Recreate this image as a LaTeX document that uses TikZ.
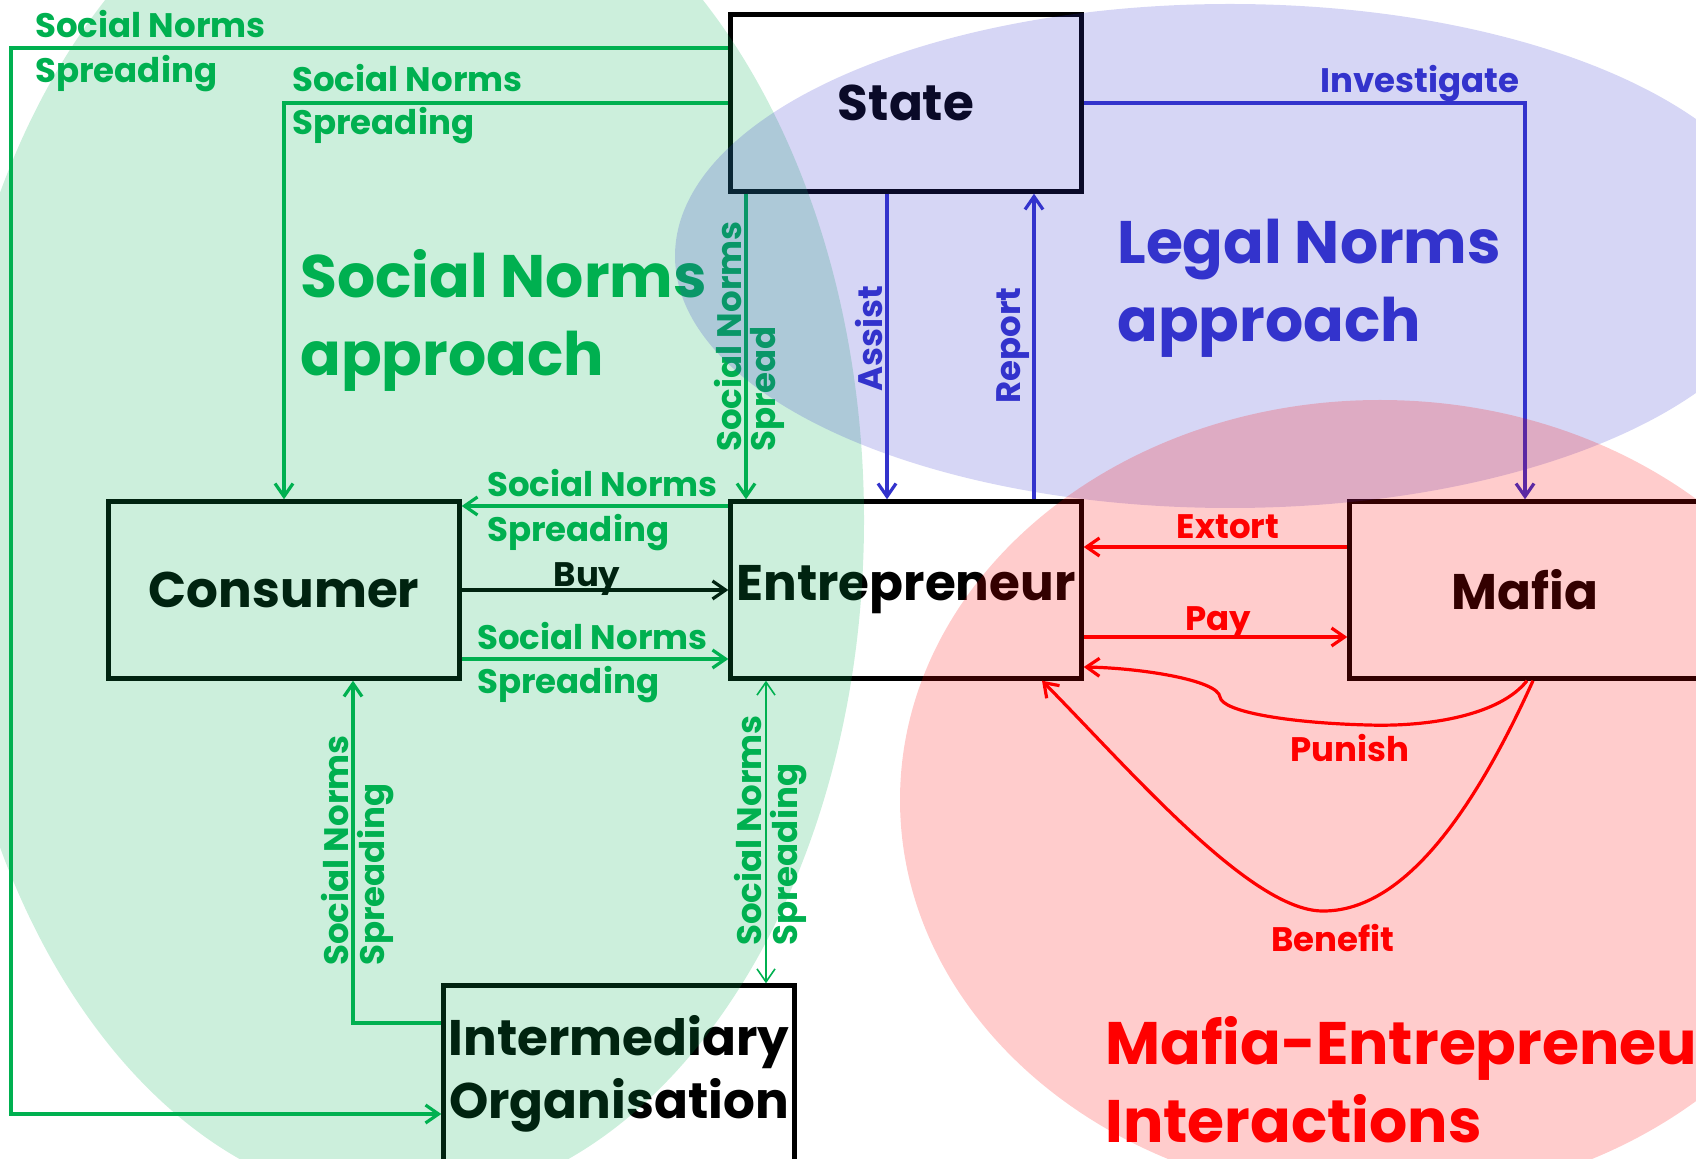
\documentclass[tikz,border=0pt]{standalone}
\usepackage{fontspec}
\setmainfont{Poppins}
\usetikzlibrary{arrows.meta}

\definecolor{snGreen}{RGB}{0,176,80}
\definecolor{lnBlue}{RGB}{51,51,204}
\definecolor{meRed}{RGB}{255,0,0}

\tikzset{
    box/.style={rectangle, draw, line width=2.2pt, minimum width=175.5pt, minimum height=88.5pt,
        inner sep=0pt, align=center, font=\fontsize{25}{31.5}\selectfont\bfseries},
    lbl/.style={inner sep=1pt, font=\fontsize{17}{20}\selectfont\bfseries},
    biglbl/.style={inner sep=0pt, align=left, anchor=north west, font=\fontsize{30}{39}\selectfont\bfseries},
    link/.style={line width=1.6pt},
}

\begin{document}
\begin{tikzpicture}[x=0.5pt, y=-0.5pt, >={Straight Barb[length=6.5pt,width=9pt]}]

    \useasboundingbox (0,0) rectangle (1696,1159);
    \clip (0,0) rectangle (1696,1159);

    \node (state) [box] at (906,103) {State};
    \node (consumer) [box] at (284,590) {Consumer};
    \node (entre) [box] at (906,590) {Entrepreneur};
    \node (mafia) [box] at (1525,590) {Mafia};
    \node (inter) [box] at (619,1074) {Intermediary\\Organisation};

    % social norms
    \draw [link, ->, color=snGreen] (state.west |- 0,48) -- (11,48) |- (inter.west |- 0,1114);
    \node [lbl, anchor=west, color=snGreen] at (33,24) {Social Norms};
    \node [lbl, anchor=west, color=snGreen] at (33,74) {Spreading};

    \draw [link, ->, color=snGreen] (state.west |- 0,103) -| (consumer.north);
    \node [lbl, anchor=west, color=snGreen] at (290,78) {Social Norms};
    \node [lbl, anchor=west, color=snGreen] at (290,126) {Spreading};

    \draw [link, ->, color=snGreen] (state.south -| 746,0) -- (entre.north -| 746,0);
    \node [lbl, rotate=90, anchor=south west, color=snGreen] at (744,454) {Social Norms};
    \node [lbl, rotate=90, anchor=north west, color=snGreen] at (748,454) {Spread};

    \draw [link, ->, color=snGreen] (entre.west |- 0,506) -- (consumer.east |- 0,506);
    \node [lbl, anchor=west, color=snGreen] at (485,483) {Social Norms};
    \node [lbl, anchor=west, color=snGreen] at (485,533) {Spreading};

    \draw [link, ->] (consumer) -- (entre);
    \node [lbl] at (587,579) {Buy};

    \draw [link, ->, color=snGreen] (consumer.east |- 0,659) -- (entre.west |- 0,659);
    \node [lbl, anchor=west, color=snGreen] at (475,636) {Social Norms};
    \node [lbl, anchor=west, color=snGreen] at (475,685) {Spreading};

    \draw [link, ->, color=snGreen] (inter.west |- 0,1023) -| (consumer.south -| 353,0);
    \node [lbl, rotate=90, anchor=south west, color=snGreen] at (351,968) {Social Norms};
    \node [lbl, rotate=90, anchor=north west, color=snGreen] at (355,968) {Spreading};

    \draw [line width=0.8pt, <->, color=snGreen] (entre.south -| 766,0) -- (inter.north -| 766,0);
    \node [lbl, rotate=90, anchor=south west, color=snGreen] at (764,948) {Social Norms};
    \node [lbl, rotate=90, anchor=north west, color=snGreen] at (768,948) {Spreading};

    % legal norms
    \draw [link, ->, color=lnBlue] (state.south -| 887,0) -- (entre.north -| 887,0);
    \node [lbl, rotate=90, anchor=south west, color=lnBlue] at (885,394) {Assist};

    \draw [link, ->, color=lnBlue] (entre.north -| 1034,0) -- (state.south -| 1034,0);
    \node [lbl, rotate=90, anchor=south west, color=lnBlue] at (1032,406) {Report};

    \draw [link, ->, color=lnBlue] (state.east |- 0,103) -| (mafia.north);
    \node [lbl, anchor=east, color=lnBlue] at (1522,84) {Investigate};

    % mafia
    \draw [link, ->, color=meRed] (mafia.west |- 0,547) -- (entre.east |- 0,547);
    \node [lbl, color=meRed] at (1228,527) {Extort};

    \draw [link, ->, color=meRed] (entre.east |- 0,637) -- (mafia.west |- 0,637);
    \node [lbl, color=meRed] at (1218,623) {Pay};

    \draw [link, ->, color=meRed] (mafia.south -| 1527,0) .. controls (1500,715) and (1430,727) .. (1368,725)
        .. controls (1290,723) and (1222,712) .. (1220,697) .. controls (1218,680) and (1140,668) .. (entre.east |- 0,667);
    \node [lbl, color=meRed] at (1350,748) {Punish};

    \draw [link, ->, color=meRed] (mafia.south -| 1533,0) .. controls (1470,820) and (1400,912) .. (1322,911)
        .. controls (1250,910) and (1130,770) .. (entre.south -| 1042,0);
    \node [lbl, color=meRed] at (1333,938) {Benefit};

    \node [biglbl, color=snGreen] at (300,249) {Social Norms\\approach};
    \node [biglbl, color=lnBlue] at (1117,219) {Legal Norms\\approach};
    \node [biglbl, color=meRed] at (1105,1016) {Mafia-Entrepreneur\\Interactions};

    \fill [snGreen, fill opacity=0.2] (404,520) ellipse [x radius=230pt, y radius=342pt];
    \fill [lnBlue, fill opacity=0.2] (1230,256) ellipse [x radius=277.5pt, y radius=126pt];
    \fill [meRed, fill opacity=0.2] (1380,800) ellipse [x radius=240pt, y radius=200pt];

\end{tikzpicture}
\end{document}
